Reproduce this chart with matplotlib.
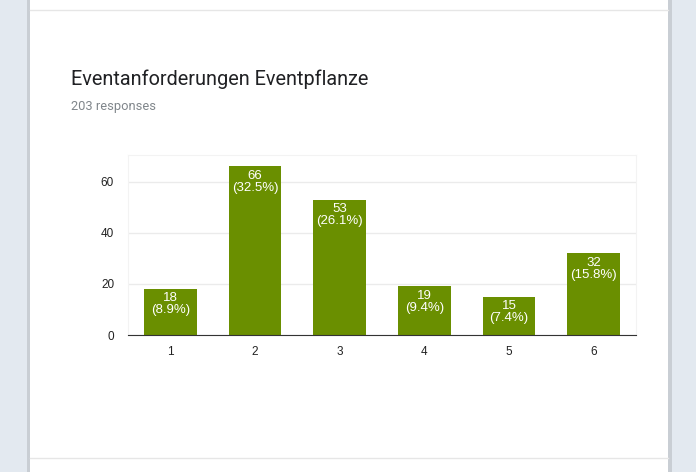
import matplotlib.pyplot as plt
from matplotlib.patches import Rectangle
from matplotlib.lines import Line2D

categories = ["1", "2", "3", "4", "5", "6"]
counts = [18, 66, 53, 19, 15, 32]
percents = ["8.9%", "32.5%", "26.1%", "9.4%", "7.4%", "15.8%"]
yticks = [0, 20, 40, 60]

W, H = 696, 472
fig = plt.figure(figsize=(W / 100, H / 100), dpi=100, facecolor="#e3e9f0")

def px(x, y):
  return x / W, 1 - y / H

# card background with soft edge
fig.patches.append(Rectangle(px(27, H), 645 / W, 1, transform=fig.transFigure,
                             facecolor="#c9ced4", edgecolor="none", zorder=-2))
fig.patches.append(Rectangle(px(30, H), 638 / W, 1, transform=fig.transFigure,
                             facecolor="white", edgecolor="none", zorder=-1))
for yy in (10, 458):
  fig.lines.append(Line2D([30 / W, 668 / W], [1 - yy / H] * 2, transform=fig.transFigure,
                          color="#e6e6e6", lw=1, zorder=1))

fig.text(71 / W, 1 - 79 / H, "Eventanforderungen Eventpflanze", fontsize=14.3,
         family="Roboto", color="#202124", va="center")
fig.text(71 / W, 1 - 106 / H, "203 responses", fontsize=9.3,
         family="Roboto", color="#80868b", va="center")

l, b = px(128, 335)
ax = fig.add_axes([l, b, (636 - 128) / W, (335 - 155) / H], zorder=2)
ax.set_facecolor("white")
x = range(len(categories))
ax.bar(x, counts, width=0.62, color="#6a8f00", zorder=2)
for i, (c, p) in enumerate(zip(counts, percents)):
  ax.text(i, c - 1.3, "%d\n(%s)" % (c, p), ha="center", va="top", color="white",
          fontsize=9.5, family="Liberation Sans", linespacing=1.0)

ax.set_xlim(-0.5, 5.5)
ax.set_ylim(0, 70.5)
ax.set_yticks(yticks)
ax.set_xticks(list(x))
ax.set_xticklabels(categories)
ax.tick_params(length=0, labelsize=8.5, colors="#222222", pad=8)
for lab in ax.get_xticklabels() + ax.get_yticklabels():
  lab.set_family("Liberation Sans")
ax.grid(axis="y", color="#ebebeb", lw=1, zorder=0)
for s in ("top", "left", "right"):
  ax.spines[s].set_color("#f3f3f3")
ax.spines["bottom"].set_color("#333333")
ax.spines["bottom"].set_zorder(3)
ax.yaxis.set_tick_params(pad=10)

fig.savefig("out.png", dpi=100, facecolor=fig.get_facecolor())
